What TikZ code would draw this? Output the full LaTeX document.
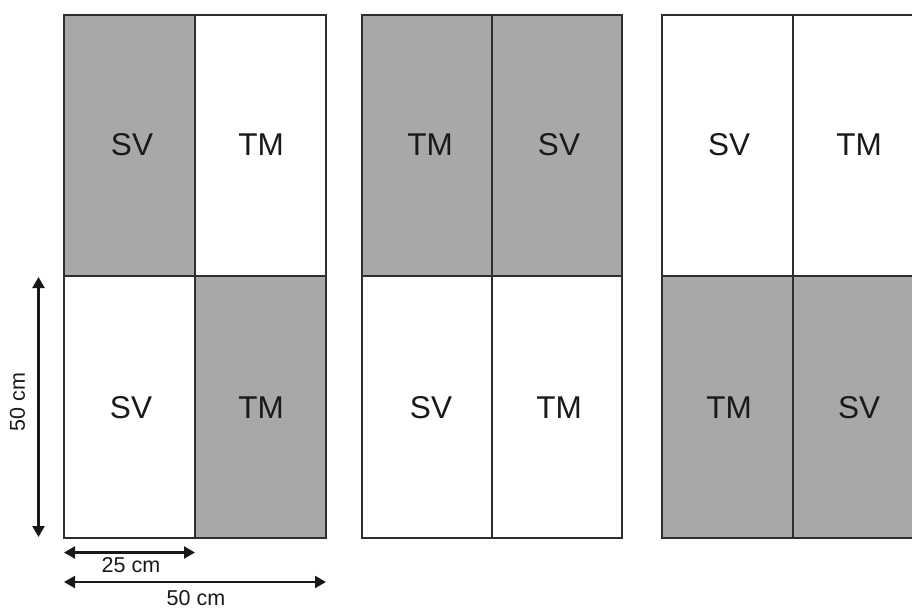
\documentclass[tikz,border=0pt]{standalone}
\usepackage{fontspec}
\setmainfont{Liberation Sans}
\usetikzlibrary{arrows.meta}
\definecolor{cellgray}{HTML}{A8A8A8}
\definecolor{edge}{HTML}{2E2E2E}
\tikzset{
  x=1pt, y=-1pt,
  grayc/.style={fill=cellgray},
  whitec/.style={fill=white},
  border/.style={draw=edge, line width=2pt},
  lbl/.style={font=\fontsize{31.5}{31.5}\selectfont, text=black!90, inner sep=0pt},
  dim/.style={draw=black!90, line width=2.2pt, {Triangle[length=11pt,width=12pt]}-{Triangle[length=11pt,width=12pt]}},
  dimtxt/.style={font=\fontsize{21.5}{21.5}\selectfont, text=black!90, inner sep=0pt}
}
\begin{document}
\begin{tikzpicture}
\useasboundingbox (0,0) rectangle (912,608);
\clip (0,0) rectangle (912,608);
\fill[white] (0,0) rectangle (912,608);
% Grid 1
\fill[grayc] (64,14.5) rectangle (195,276);
\fill[grayc] (195,276) rectangle (325.5,538);
\draw[border] (64,14.5) rectangle (325.5,538);
\draw[border] (195,14.5) -- (195,538);
\draw[border] (64,276) -- (325.5,276);
\node[lbl] (a1) at (132,145) {SV};
\node[lbl] (a2) at (261,145) {TM};
\node[lbl] (a3) at (131,408) {SV};
\node[lbl] (a4) at (261,408) {TM};
% Grid 2
\fill[grayc] (362,14.5) rectangle (622,276);
\draw[border] (362,14.5) rectangle (622,538);
\draw[border] (492,14.5) -- (492,538);
\draw[border] (362,276) -- (622,276);
\node[lbl] (b1) at (430,145) {TM};
\node[lbl] (b2) at (559,145) {SV};
\node[lbl] (b3) at (431,408) {SV};
\node[lbl] (b4) at (559,408) {TM};
% Grid 3
\fill[grayc] (662,276) rectangle (923,538);
\draw[border] (662,14.5) rectangle (923,538);
\draw[border] (793,14.5) -- (793,538);
\draw[border] (662,276) -- (923,276);
\node[lbl] (c1) at (729,145) {SV};
\node[lbl] (c2) at (859,145) {TM};
\node[lbl] (c3) at (729,408) {TM};
\node[lbl] (c4) at (859,408) {SV};
% Dimensions
\coordinate (v0) at (38.5,277);
\coordinate (v1) at (38.5,537);
\draw[dim] (v0) -- (v1);
\node[dimtxt, rotate=90] (vt) at (17.5,402) {50 cm};
\coordinate (h0) at (64,552.5);
\coordinate (h1) at (195,552.5);
\draw[dim] (h0) -- (h1);
\node[dimtxt] (ht) at (131,565) {25 cm};
\coordinate (k0) at (64,582);
\coordinate (k1) at (326,582);
\draw[dim] (k0) -- (k1);
\node[dimtxt] (kt) at (196,598.5) {50 cm};
\end{tikzpicture}
\end{document}
